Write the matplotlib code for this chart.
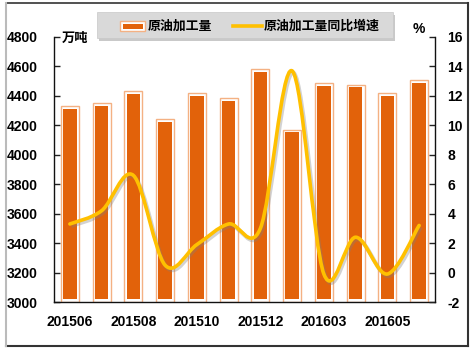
import matplotlib
matplotlib.use("Agg")
import matplotlib.pyplot as plt
from matplotlib.path import Path
from matplotlib.patches import PathPatch, Rectangle
from matplotlib.lines import Line2D
import matplotlib.transforms as mtransforms
import numpy as np

# ---- data ----
months = ["201506", "201507", "201508", "201509", "201510", "201511",
          "201512", "201602", "201603", "201604", "201605", "201606"]
output = [4330, 4350, 4430, 4240, 4420, 4385, 4580, 4170, 4485, 4475, 4420, 4505]
yoy = [3.3, 4.2, 6.6, 0.5, 1.9, 3.3, 3.0, 13.7, -0.1, 2.4, -0.1, 3.2]
left_ticks = [3000, 3200, 3400, 3600, 3800, 4000, 4200, 4400, 4600, 4800]
right_ticks = [-2, 0, 2, 4, 6, 8, 10, 12, 14, 16]
series_names = ["原油加工量", "原油加工量同比增速"]
left_unit = "万吨"
right_unit = "%"

BAR = "#E2620A"
BAR_EDGE = "#F4B183"
LINE = "#FFC000"
CJK = ["Noto Sans CJK SC", "DejaVu Sans"]
NUM = "Liberation Sans"

W, H = 473, 352
fig = plt.figure(figsize=(W / 100, H / 100), dpi=100)
fig.patch.set_facecolor("white")

def fx(px):
    return px / W

def fy(py):
    return 1 - py / H

ax = fig.add_axes([fx(54), fy(302), fx(435) - fx(54), fy(37) - fy(302)])
ax.set_facecolor("none")
x = np.arange(len(months))

# bars: outer light-orange outline, white gap, orange core
vals = np.array(output, dtype=float)
ax.bar(x, vals - 3000, bottom=3000, width=0.56, facecolor="white",
       edgecolor=BAR_EDGE, linewidth=1.0, zorder=2)
inset = 18
ax.bar(x, vals - 3000 - 2 * inset, bottom=3000 + inset, width=0.42,
       facecolor=BAR, edgecolor="none", zorder=3)

ax.set_xlim(-0.5, len(months) - 0.5)
ax.set_ylim(3000, 4800)
ax.set_yticks(left_ticks)
ax.set_yticklabels([str(t) for t in left_ticks])
ax.set_xticks(x[::2])
ax.set_xticklabels([months[i] for i in range(0, len(months), 2)])
ax.tick_params(axis="y", direction="in", length=4, width=1, pad=11.5,
               labelsize=10, colors="#222222", labelcolor="black")
ax.tick_params(axis="x", length=0, pad=9, labelsize=10)
for lab in ax.get_yticklabels() + ax.get_xticklabels():
    lab.set_fontfamily(NUM)
    lab.set_fontweight("bold")
ax.spines["top"].set_visible(False)
ax.spines["right"].set_visible(False)
for s in ("left", "bottom"):
    ax.spines[s].set_color("#111111")
    ax.spines[s].set_linewidth(1.0)

ax2 = ax.twinx()
ax2.set_ylim(-2, 16)
ax2.set_yticks(right_ticks)
ax2.set_yticklabels([str(t) for t in right_ticks])
ax2.tick_params(axis="y", direction="in", length=4, width=1, pad=9,
                labelsize=10, colors="#222222", labelcolor="black")
for lab in ax2.get_yticklabels():
    lab.set_fontfamily(NUM)
    lab.set_fontweight("bold")
for s in ("top", "left", "bottom"):
    ax2.spines[s].set_visible(False)
ax2.spines["right"].set_color("#111111")
ax2.spines["right"].set_linewidth(1.0)

# smoothed line (Bezier through data points, like Excel smoothing)
pts = np.column_stack([x, np.array(yoy, dtype=float)])
n = len(pts)
verts = [tuple(pts[0])]
codes = [Path.MOVETO]
for i in range(n - 1):
    p0 = pts[i - 1] if i > 0 else pts[i]
    p1 = pts[i]
    p2 = pts[i + 1]
    p3 = pts[i + 2] if i + 2 < n else pts[i + 1]
    c1 = p1 + (p2 - p0) / 6.0
    c2 = p2 - (p3 - p1) / 6.0
    verts += [tuple(c1), tuple(c2), tuple(p2)]
    codes += [Path.CURVE4] * 3
path = Path(verts, codes)
shadow_tr = ax2.transData + mtransforms.ScaledTranslation(1.5 / 100, -2.0 / 100, fig.dpi_scale_trans)
ax2.add_patch(PathPatch(path, facecolor="none", edgecolor="#808080", lw=3.0,
                        alpha=0.35, transform=shadow_tr, zorder=4))
ax2.add_patch(PathPatch(path, facecolor="none", edgecolor=LINE, lw=2.6,
                        capstyle="round", joinstyle="round", zorder=5))

# unit labels
fig.text(fx(62), fy(38), left_unit, fontsize=9.5, fontweight="bold",
         family=CJK, ha="left", va="center")
fig.text(fx(419), fy(29), right_unit, fontsize=10, fontweight="bold",
         family=NUM, ha="center", va="center")

# legend box with shadow
fig.patches.append(Rectangle((fx(99), fy(41)), fx(393) - fx(97), fy(12) - fy(38),
                             transform=fig.transFigure, facecolor="#A6A6A6",
                             edgecolor="none", alpha=0.6, zorder=1))
fig.patches.append(Rectangle((fx(97), fy(38)), fx(393) - fx(97), fy(12) - fy(38),
                             transform=fig.transFigure, facecolor="#D9D9D9",
                             edgecolor="#C8C8C8", lw=0.5, zorder=2))
fig.patches.append(Rectangle((fx(120), fy(31)), fx(145) - fx(120), fy(21) - fy(31),
                             transform=fig.transFigure, facecolor="white",
                             edgecolor=BAR_EDGE, lw=1.0, zorder=3))
fig.patches.append(Rectangle((fx(122.5), fy(28.5)), fx(142.5) - fx(122.5), fy(23.5) - fy(28.5),
                             transform=fig.transFigure, facecolor=BAR,
                             edgecolor="none", zorder=4))
fig.lines.append(Line2D([fx(233), fx(262)], [fy(25.5), fy(25.5)],
                        transform=fig.transFigure, color=LINE, lw=2.6, zorder=4))
fig.text(fx(148), fy(26), series_names[0], fontsize=9.3, fontweight="bold",
         family=CJK, ha="left", va="center", zorder=5)
fig.text(fx(264), fy(26), series_names[1], fontsize=9.3, fontweight="bold",
         family=CJK, ha="left", va="center", zorder=5)

# outer frame
fig.lines.append(Line2D([fx(6), fx(468)], [fy(3), fy(3)], transform=fig.transFigure,
                        color="#333333", lw=1.2))
fig.lines.append(Line2D([fx(468), fx(468)], [fy(3), fy(346)], transform=fig.transFigure,
                        color="#333333", lw=1.5))
fig.lines.append(Line2D([fx(6), fx(468)], [fy(346), fy(346)], transform=fig.transFigure,
                        color="#333333", lw=1.5))
fig.lines.append(Line2D([fx(6), fx(6)], [fy(3), fy(346)], transform=fig.transFigure,
                        color="#BBBBBB", lw=1.5))

fig.savefig("out.png", dpi=100)
